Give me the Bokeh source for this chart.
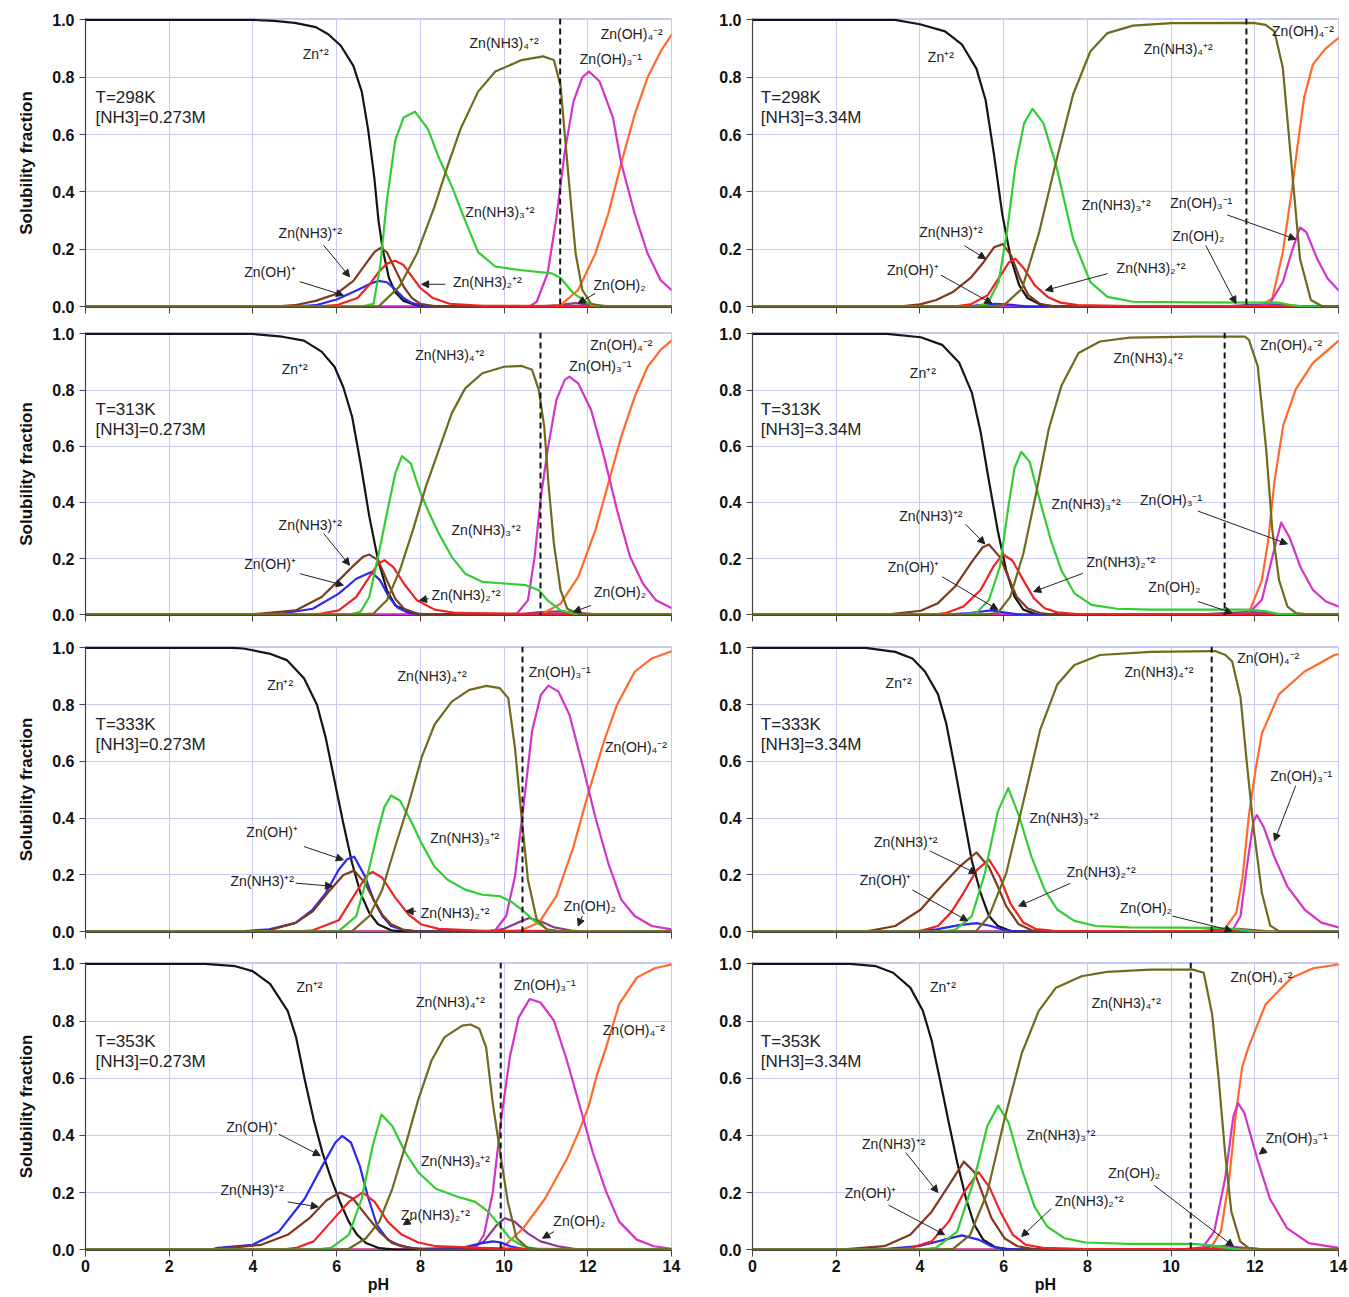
from bokeh.plotting import figure
from bokeh.layouts import column, row
from bokeh.models import (Range1d, FixedTicker, NumeralTickFormatter, Span, Label,
                          Arrow, NormalHead, ColumnDataSource)
from bokeh.embed import file_html
from bokeh.resources import INLINE

# ---------------- data: (pH, solubility fraction) ----------------
# Panel A : T=298K, [NH3]=0.273M
A_ZN = [(0,1),(4,1),(4.5,0.997),(5,0.99),(5.5,0.975),(5.8,0.95),(6.1,0.91),(6.4,0.84),(6.6,0.75),(6.75,0.62),(6.9,0.45),(7.0,0.3),(7.1,0.2),(7.25,0.1),(7.4,0.05),(7.6,0.02),(7.9,0.005),(8.3,0),(14,0)]
A_OH = [(0,0),(5,0),(5.5,0.005),(6,0.025),(6.5,0.058),(6.8,0.08),(7.0,0.09),(7.2,0.085),(7.4,0.06),(7.6,0.03),(7.8,0.012),(8.1,0.003),(8.5,0),(14,0)]
A_N1 = [(0,0),(4.5,0),(5,0.005),(5.5,0.02),(6,0.045),(6.4,0.09),(6.7,0.15),(6.9,0.19),(7.05,0.205),(7.2,0.19),(7.4,0.13),(7.6,0.07),(7.8,0.03),(8.0,0.01),(8.4,0),(14,0)]
A_N2 = [(0,0),(5.5,0),(6,0.005),(6.5,0.03),(6.8,0.08),(7.0,0.12),(7.2,0.15),(7.4,0.16),(7.6,0.145),(7.8,0.105),(8.0,0.065),(8.3,0.03),(8.7,0.01),(9.5,0.003),(12,0.002),(14,0)]
A_N3 = [(0,0),(6.6,0),(6.88,0.01),(7.04,0.14),(7.2,0.37),(7.4,0.58),(7.6,0.66),(7.87,0.68),(8.18,0.62),(8.44,0.52),(8.75,0.42),(9.07,0.3),(9.38,0.19),(9.79,0.14),(10.42,0.127),(11.14,0.116),(11.35,0.1),(11.66,0.046),(12.08,0.006),(12.4,0),(14,0)]
A_N4 = [(0,0),(7.0,0),(7.5,0.07),(7.92,0.185),(8.34,0.35),(8.65,0.49),(8.96,0.62),(9.38,0.75),(9.79,0.82),(10.42,0.86),(10.93,0.873),(11.19,0.86),(11.35,0.77),(11.45,0.6),(11.56,0.42),(11.71,0.185),(11.87,0.058),(12.08,0.01),(12.4,0),(14,0)]
A_OH2 = [(0,0),(10.8,0),(11.3,0.005),(11.7,0.012),(12.1,0.006),(12.6,0),(14,0)]
A_OH3 = [(0,0),(10.6,0),(10.78,0.017),(11.04,0.116),(11.25,0.31),(11.45,0.54),(11.66,0.717),(11.87,0.8),(12.03,0.82),(12.28,0.786),(12.6,0.66),(12.8,0.5),(13.12,0.324),(13.43,0.185),(13.74,0.092),(14,0.058)]
A_OH4 = [(0,0),(11.0,0),(11.35,0.005),(11.77,0.058),(12.18,0.185),(12.49,0.324),(12.8,0.5),(13.12,0.67),(13.43,0.8),(13.74,0.89),(14,0.948)]

# Panel B : T=298K, [NH3]=3.34M
B_ZN = [(0,1),(3.4,1),(4.0,0.985),(4.6,0.96),(5.0,0.915),(5.35,0.83),(5.57,0.72),(5.77,0.53),(5.97,0.32),(6.17,0.17),(6.37,0.075),(6.57,0.03),(6.9,0.006),(7.3,0),(14,0)]
B_OH = [(0,0),(4.8,0),(5.3,0.004),(5.8,0.01),(6.2,0.006),(6.6,0),(14,0)]
B_N1 = [(0,0),(3.5,0),(4.0,0.008),(4.39,0.023),(4.8,0.052),(5.21,0.1),(5.52,0.155),(5.77,0.207),(5.98,0.218),(6.18,0.178),(6.39,0.098),(6.59,0.04),(6.85,0.011),(7.2,0),(14,0)]
B_N2 = [(0,0),(4.8,0),(5.21,0.008),(5.62,0.04),(5.93,0.11),(6.13,0.155),(6.28,0.167),(6.49,0.132),(6.74,0.075),(7.05,0.034),(7.36,0.014),(7.77,0.005),(9,0.002),(13,0.002),(14,0)]
B_N3 = [(0,0),(5.3,0),(5.62,0.011),(5.88,0.086),(6.08,0.26),(6.28,0.49),(6.49,0.64),(6.69,0.69),(6.95,0.64),(7.26,0.49),(7.66,0.236),(8.07,0.086),(8.48,0.034),(9.09,0.017),(10.5,0.015),(12.57,0.014),(12.88,0.005),(13.2,0),(14,0)]
B_N4 = [(0,0),(5.7,0),(6.03,0.008),(6.44,0.063),(6.85,0.26),(7.26,0.51),(7.66,0.74),(8.07,0.89),(8.48,0.954),(9.09,0.98),(10.01,0.989),(11.96,0.99),(12.26,0.983),(12.47,0.96),(12.67,0.833),(12.88,0.49),(13.08,0.167),(13.34,0.023),(13.59,0.003),(14,0)]
B_OH2 = [(0,0),(11.2,0),(11.8,0.005),(12.4,0.008),(12.9,0.003),(13.3,0),(14,0)]
B_OH3 = [(0,0),(12.0,0),(12.36,0.011),(12.67,0.086),(12.88,0.19),(13.08,0.276),(13.23,0.26),(13.49,0.167),(13.74,0.098),(14,0.057)]
B_OH4 = [(0,0),(12.1,0),(12.42,0.029),(12.67,0.19),(12.88,0.4),(13.03,0.57),(13.18,0.73),(13.39,0.845),(13.69,0.9),(14,0.937)]

# Panel C : T=313K, [NH3]=0.273M
C_ZN = [(0,1),(3.98,1),(4.7,0.99),(5.22,0.976),(5.64,0.937),(5.95,0.883),(6.16,0.81),(6.37,0.705),(6.57,0.54),(6.78,0.35),(6.99,0.194),(7.2,0.087),(7.4,0.033),(7.72,0.01),(8.03,0),(14,0)]
C_OH = [(0,0),(4.3,0),(4.7,0.004),(5.43,0.021),(6.05,0.075),(6.47,0.128),(6.83,0.152),(7.04,0.122),(7.25,0.063),(7.46,0.025),(7.72,0.006),(8.1,0),(14,0)]
C_N1 = [(0,0),(3.8,0),(4.18,0.004),(5.02,0.015),(5.64,0.063),(6.05,0.122),(6.37,0.17),(6.63,0.206),(6.78,0.214),(6.99,0.194),(7.2,0.122),(7.4,0.057),(7.61,0.021),(7.92,0.004),(8.3,0),(14,0)]
C_N2 = [(0,0),(5.3,0),(5.64,0.004),(6.05,0.015),(6.47,0.063),(6.78,0.134),(6.99,0.182),(7.14,0.194),(7.35,0.17),(7.61,0.11),(7.92,0.051),(8.34,0.018),(8.86,0.006),(10.4,0.003),(12.5,0.002),(14,0)]
C_N3 = [(0,0),(6.3,0),(6.57,0.01),(6.78,0.063),(6.99,0.206),(7.2,0.36),(7.4,0.503),(7.56,0.565),(7.77,0.539),(7.98,0.444),(8.18,0.372),(8.44,0.289),(8.75,0.206),(9.07,0.146),(9.48,0.117),(10.1,0.11),(10.52,0.105),(10.83,0.087),(11.04,0.051),(11.35,0.015),(11.66,0.004),(12,0),(14,0)]
C_N4 = [(0,0),(6.5,0),(6.88,0.004),(7.2,0.051),(7.51,0.158),(7.82,0.3),(8.13,0.455),(8.44,0.586),(8.75,0.717),(9.07,0.806),(9.48,0.86),(10.0,0.883),(10.42,0.886),(10.67,0.872),(10.83,0.8),(10.96,0.67),(11.06,0.467),(11.19,0.253),(11.35,0.087),(11.51,0.021),(11.77,0.004),(12.1,0),(14,0)]
C_OH2 = [(0,0),(10.3,0),(10.8,0.008),(11.3,0.012),(11.8,0.006),(12.3,0),(14,0)]
C_OH3 = [(0,0),(10.0,0),(10.31,0.004),(10.57,0.051),(10.73,0.206),(10.88,0.42),(11.04,0.586),(11.25,0.765),(11.45,0.836),(11.56,0.848),(11.77,0.824),(12.08,0.729),(12.39,0.562),(12.7,0.372),(13.01,0.206),(13.32,0.11),(13.63,0.051),(14,0.024)]
C_OH4 = [(0,0),(10.6,0),(10.93,0.004),(11.35,0.039),(11.77,0.134),(12.18,0.3),(12.49,0.467),(12.8,0.634),(13.12,0.776),(13.43,0.883),(13.74,0.943),(14,0.976)]

# Panel D : T=313K, [NH3]=3.34M
D_ZN = [(0,1),(3.21,1),(4.02,0.988),(4.53,0.961),(4.94,0.897),(5.24,0.791),(5.45,0.651),(5.65,0.475),(5.86,0.299),(6.06,0.158),(6.26,0.064),(6.47,0.018),(6.77,0.002),(7.1,0),(14,0)]
D_OH = [(0,0),(4.6,0),(5.2,0.006),(5.7,0.015),(6.0,0.008),(6.4,0),(14,0)]
D_N1 = [(0,0),(3.2,0),(4.02,0.014),(4.43,0.041),(4.84,0.1),(5.24,0.188),(5.5,0.24),(5.65,0.25),(5.91,0.205),(6.11,0.135),(6.31,0.064),(6.57,0.023),(6.87,0.006),(7.2,0),(14,0)]
D_N2 = [(0,0),(4.3,0),(4.63,0.006),(5.04,0.029),(5.45,0.088),(5.75,0.17),(5.98,0.215),(6.21,0.193),(6.47,0.123),(6.72,0.059),(6.98,0.023),(7.28,0.008),(7.69,0.003),(13,0.002),(14,0)]
D_N3 = [(0,0),(5.0,0),(5.35,0.006),(5.65,0.053),(5.91,0.17),(6.11,0.381),(6.26,0.522),(6.42,0.58),(6.62,0.545),(6.87,0.404),(7.13,0.264),(7.38,0.158),(7.69,0.076),(8.1,0.035),(8.71,0.021),(9.52,0.018),(11.86,0.018),(12.27,0.012),(12.58,0.002),(13,0),(14,0)]
D_N4 = [(0,0),(5.5,0),(5.86,0.006),(6.16,0.064),(6.47,0.217),(6.77,0.428),(7.08,0.662),(7.38,0.815),(7.79,0.932),(8.3,0.973),(9.01,0.987),(10.54,0.99),(11.76,0.99),(11.86,0.979),(12.07,0.885),(12.27,0.592),(12.42,0.299),(12.58,0.123),(12.78,0.029),(12.98,0.006),(13.3,0),(14,0)]
D_OH2 = [(0,0),(10.6,0),(11.3,0.006),(11.9,0.01),(12.4,0.004),(12.8,0),(14,0)]
D_OH3 = [(0,0),(11.5,0),(11.86,0.006),(12.17,0.053),(12.42,0.205),(12.63,0.328),(12.83,0.275),(13.09,0.17),(13.39,0.088),(13.7,0.047),(14,0.029)]
D_OH4 = [(0,0),(11.5,0),(11.86,0.006),(12.17,0.123),(12.32,0.264),(12.47,0.475),(12.68,0.674),(12.98,0.803),(13.39,0.897),(14,0.975)]

# Panel E : T=333K, [NH3]=0.273M
E_ZN = [(0,1),(3.5,1),(3.77,0.998),(4.39,0.98),(4.81,0.957),(5.22,0.893),(5.53,0.8),(5.74,0.683),(5.95,0.532),(6.16,0.381),(6.37,0.241),(6.57,0.136),(6.78,0.066),(6.99,0.026),(7.3,0.005),(7.6,0),(14,0)]
E_OH = [(0,0),(3.6,0),(4.39,0.008),(5.02,0.031),(5.43,0.078),(5.74,0.136),(6.05,0.218),(6.25,0.255),(6.42,0.264),(6.68,0.194),(6.88,0.113),(7.09,0.055),(7.3,0.02),(7.61,0.005),(8.0,0),(14,0)]
E_N1 = [(0,0),(3.6,0),(4.39,0.005),(5.02,0.031),(5.43,0.072),(5.85,0.148),(6.16,0.2),(6.42,0.215),(6.68,0.171),(6.88,0.113),(7.09,0.06),(7.3,0.026),(7.61,0.006),(8.0,0),(14,0)]
E_N2 = [(0,0),(5.0,0),(5.43,0.005),(6.05,0.04),(6.47,0.14),(6.73,0.2),(6.86,0.21),(7.09,0.19),(7.4,0.12),(7.72,0.06),(8.03,0.025),(8.44,0.01),(9.5,0.003),(12,0.002),(14,0)]
E_N3 = [(0,0),(5.7,0),(6.05,0.002),(6.47,0.055),(6.73,0.194),(6.99,0.357),(7.14,0.439),(7.3,0.48),(7.51,0.462),(7.77,0.392),(8.03,0.311),(8.34,0.229),(8.65,0.183),(9.07,0.148),(9.48,0.13),(9.9,0.125),(10.16,0.107),(10.42,0.078),(10.73,0.037),(11.04,0.008),(11.4,0),(14,0)]
E_N4 = [(0,0),(6.0,0),(6.37,0.002),(6.78,0.055),(7.09,0.148),(7.4,0.3),(7.72,0.45),(8.03,0.614),(8.34,0.73),(8.75,0.811),(9.17,0.852),(9.58,0.866),(9.9,0.858),(10.1,0.823),(10.26,0.648),(10.41,0.416),(10.57,0.183),(10.78,0.043),(11.04,0.005),(11.4,0),(14,0)]
E_OH2 = [(0,0),(9.6,0),(10.0,0.01),(10.3,0.03),(10.6,0.048),(10.9,0.035),(11.2,0.015),(11.6,0.004),(12.0,0),(14,0)]
E_OH3 = [(0,0),(9.5,0),(9.79,0.005),(10.05,0.055),(10.26,0.194),(10.47,0.45),(10.67,0.707),(10.88,0.835),(11.06,0.867),(11.3,0.846),(11.56,0.765),(11.87,0.59),(12.18,0.404),(12.49,0.241),(12.8,0.113),(13.12,0.055),(13.53,0.02),(14,0.008)]
E_OH4 = [(0,0),(10.1,0),(10.41,0.005),(10.83,0.031),(11.25,0.125),(11.66,0.3),(12.03,0.497),(12.39,0.672),(12.7,0.8),(13.12,0.916),(13.53,0.963),(14,0.988)]

# Panel F : T=333K, [NH3]=3.34M
F_ZN = [(0,1),(2.7,1),(3.41,0.986),(3.82,0.963),(4.12,0.917),(4.43,0.837),(4.63,0.733),(4.84,0.572),(5.04,0.41),(5.24,0.25),(5.45,0.136),(5.65,0.055),(5.86,0.02),(6.16,0.003),(6.5,0),(14,0)]
F_OH = [(0,0),(3.8,0),(4.4,0.008),(4.9,0.022),(5.35,0.03),(5.7,0.02),(6.0,0.006),(6.3,0),(14,0)]
F_N1 = [(0,0),(2.7,0),(3.41,0.02),(4.02,0.078),(4.43,0.147),(4.94,0.228),(5.35,0.279),(5.65,0.228),(5.86,0.159),(6.06,0.09),(6.36,0.026),(6.67,0.005),(7.0,0),(14,0)]
F_N2 = [(0,0),(3.7,0),(4.02,0.003),(4.43,0.02),(4.74,0.067),(5.04,0.136),(5.35,0.216),(5.65,0.254),(5.91,0.193),(6.16,0.1),(6.47,0.032),(6.77,0.009),(7.2,0.003),(13,0.002),(14,0)]
F_N3 = [(0,0),(4.5,0),(4.84,0.006),(5.24,0.055),(5.55,0.205),(5.86,0.423),(6.11,0.506),(6.36,0.411),(6.67,0.262),(6.98,0.147),(7.28,0.078),(7.69,0.038),(8.2,0.02),(9.01,0.015),(11.05,0.013),(11.56,0.009),(11.97,0),(14,0)]
F_N4 = [(0,0),(5.0,0),(5.35,0.003),(5.65,0.055),(6.06,0.205),(6.47,0.457),(6.87,0.71),(7.28,0.871),(7.69,0.94),(8.3,0.975),(9.52,0.986),(11.05,0.989),(11.3,0.975),(11.46,0.952),(11.66,0.825),(11.81,0.595),(11.97,0.366),(12.17,0.136),(12.37,0.021),(12.6,0),(14,0)]
F_OH2 = [(0,0),(10.5,0),(11.1,0.006),(11.6,0.01),(12.1,0.004),(12.5,0),(14,0)]
F_OH3 = [(0,0),(11.2,0),(11.46,0.003),(11.66,0.055),(11.81,0.228),(11.97,0.389),(12.05,0.411),(12.22,0.366),(12.47,0.262),(12.78,0.159),(13.19,0.078),(13.59,0.032),(14,0.015)]
F_OH4 = [(0,0),(11.0,0),(11.25,0.003),(11.56,0.067),(11.71,0.193),(11.86,0.411),(12.02,0.572),(12.17,0.699),(12.58,0.837),(13.19,0.917),(13.9,0.975),(14,0.978)]

# Panel G : T=353K, [NH3]=0.273M
G_ZN = [(0,1),(2.85,1),(3.58,0.992),(3.99,0.975),(4.41,0.93),(4.83,0.836),(5.03,0.744),(5.24,0.594),(5.45,0.456),(5.66,0.34),(5.87,0.248),(6.08,0.167),(6.29,0.098),(6.49,0.052),(6.7,0.023),(7.02,0.005),(7.4,0),(14,0)]
G_OH = [(0,0),(3.0,0),(3.16,0.006),(3.99,0.017),(4.62,0.063),(5.24,0.179),(5.66,0.294),(5.97,0.375),(6.13,0.398),(6.34,0.375),(6.55,0.294),(6.76,0.179),(6.96,0.087),(7.22,0.035),(7.54,0.012),(7.95,0.003),(9.0,0.006),(9.41,0.021),(9.73,0.029),(9.93,0.025),(10.14,0.012),(10.46,0.002),(10.8,0),(14,0)]
G_N1 = [(0,0),(3.0,0),(3.16,0.003),(4.2,0.017),(4.83,0.052),(5.35,0.11),(5.76,0.173),(6.08,0.2),(6.39,0.179),(6.7,0.121),(7.02,0.063),(7.33,0.023),(7.75,0.006),(8.2,0),(14,0)]
G_N2 = [(0,0),(4.7,0),(5.03,0.006),(5.45,0.029),(5.87,0.098),(6.29,0.167),(6.62,0.2),(6.91,0.167),(7.22,0.098),(7.54,0.054),(7.95,0.025),(8.37,0.012),(9.41,0.006),(10.46,0.003),(12,0.002),(14,0)]
G_N3 = [(0,0),(5.5,0),(5.87,0.006),(6.29,0.052),(6.6,0.179),(6.86,0.363),(7.07,0.473),(7.33,0.433),(7.64,0.34),(7.95,0.271),(8.37,0.213),(8.89,0.185),(9.31,0.167),(9.62,0.133),(9.88,0.087),(10.14,0.04),(10.46,0.012),(10.77,0.002),(11.1,0),(14,0)]
G_N4 = [(0,0),(6.0,0),(6.29,0.003),(6.7,0.04),(7.02,0.098),(7.33,0.213),(7.64,0.363),(7.95,0.525),(8.27,0.663),(8.58,0.744),(9.0,0.784),(9.2,0.788),(9.41,0.773),(9.57,0.709),(9.73,0.513),(9.93,0.317),(10.09,0.167),(10.3,0.04),(10.56,0.006),(10.9,0),(14,0)]
G_OH2 = [(0,0),(8.9,0),(9.2,0.003),(9.52,0.029),(9.83,0.087),(10.02,0.11),(10.25,0.098),(10.56,0.058),(10.87,0.029),(11.29,0.012),(11.7,0.002),(12.0,0),(14,0)]
G_OH3 = [(0,0),(9.0,0),(9.31,0.003),(9.52,0.052),(9.73,0.2),(9.93,0.456),(10.14,0.675),(10.35,0.813),(10.61,0.877),(10.87,0.865),(11.19,0.802),(11.5,0.663),(11.81,0.502),(12.12,0.34),(12.44,0.202),(12.75,0.098),(13.17,0.035),(13.58,0.012),(14,0.003)]
G_OH4 = [(0,0),(9.6,0),(9.93,0.003),(10.46,0.075),(10.98,0.179),(11.5,0.317),(11.81,0.421),(12.02,0.502),(12.23,0.617),(12.44,0.709),(12.75,0.859),(13.17,0.952),(13.6,0.985),(14,0.998)]

# Panel H : T=353K, [NH3]=3.34M
H_ZN = [(0,1),(2.33,1),(2.95,0.992),(3.36,0.969),(3.77,0.917),(4.07,0.836),(4.28,0.732),(4.48,0.594),(4.69,0.444),(4.89,0.306),(5.1,0.179),(5.3,0.087),(5.51,0.035),(5.81,0.008),(6.2,0),(14,0)]
H_OH = [(0,0),(2.8,0),(3.15,0.002),(3.97,0.012),(4.59,0.035),(5.0,0.05),(5.4,0.035),(5.71,0.012),(6.02,0.002),(6.4,0),(14,0)]
H_N1 = [(0,0),(2.0,0),(2.33,0.003),(3.15,0.012),(3.77,0.052),(4.28,0.133),(4.69,0.225),(5.05,0.308),(5.3,0.271),(5.51,0.19),(5.71,0.11),(6.02,0.04),(6.33,0.012),(6.73,0.002),(7.1,0),(14,0)]
H_N2 = [(0,0),(3.4,0),(3.77,0.006),(4.28,0.029),(4.69,0.098),(5.05,0.2),(5.4,0.271),(5.66,0.219),(5.92,0.133),(6.22,0.052),(6.53,0.017),(6.94,0.006),(8,0.002),(13,0.002),(14,0)]
H_N3 = [(0,0),(4.0,0),(4.38,0.006),(4.89,0.063),(5.3,0.248),(5.61,0.433),(5.87,0.504),(6.12,0.444),(6.43,0.283),(6.74,0.15),(7.04,0.081),(7.45,0.04),(7.96,0.025),(8.99,0.02),(10.52,0.02),(10.93,0.015),(11.34,0.006),(11.65,0),(14,0)]
H_N4 = [(0,0),(4.4,0),(4.79,0.003),(5.2,0.052),(5.61,0.2),(6.02,0.456),(6.43,0.686),(6.84,0.836),(7.25,0.917),(7.86,0.957),(8.47,0.972),(9.5,0.98),(10.52,0.98),(10.78,0.969),(10.98,0.825),(11.14,0.594),(11.29,0.34),(11.44,0.133),(11.65,0.029),(11.85,0.006),(12.2,0),(14,0)]
H_OH2 = [(0,0),(10.2,0),(10.8,0.008),(11.3,0.012),(11.8,0.005),(12.3,0),(14,0)]
H_OH3 = [(0,0),(10.4,0),(10.73,0.003),(11.03,0.063),(11.29,0.248),(11.49,0.467),(11.6,0.513),(11.75,0.479),(12.06,0.317),(12.36,0.179),(12.77,0.075),(13.29,0.023),(14,0.006)]
H_OH4 = [(0,0),(10.6,0),(10.93,0.003),(11.19,0.063),(11.39,0.248),(11.55,0.479),(11.7,0.64),(11.85,0.709),(12.26,0.859),(12.88,0.952),(13.4,0.985),(14,0.998)]

# vertical dashed marker (pH) and panel captions
DASH_PH = [11.34, 11.8, 10.87, 11.28, 10.44, 10.97, 9.92, 10.47]
TEMPS = ["T=298K", "T=298K", "T=313K", "T=313K", "T=333K", "T=333K", "T=353K", "T=353K"]
NH3 = ["[NH3]=0.273M", "[NH3]=3.34M"] * 4

SPECIES_TEXT = {
    "ZN": "Zn\u207a\u00b2",
    "OH": "Zn(OH)\u207a",
    "N1": "Zn(NH3)\u207a\u00b2",
    "N2": "Zn(NH3)\u2082\u207a\u00b2",
    "N3": "Zn(NH3)\u2083\u207a\u00b2",
    "N4": "Zn(NH3)\u2084\u207a\u00b2",
    "OH2": "Zn(OH)\u2082",
    "OH3": "Zn(OH)\u2083\u207b\u00b9",
    "OH4": "Zn(OH)\u2084\u207b\u00b2",
}

# ---------------- styling ----------------
COLORS = {"ZN": "#151515", "OH": "#2b2bef", "N1": "#7d3a1e", "N2": "#f02222",
          "N3": "#33cc33", "N4": "#6f6a1d", "OH2": "#8e3a8e", "OH3": "#d233c8",
          "OH4": "#ff6a2a"}
DRAW_ORDER = ["OH2", "OH4", "OH3", "ZN", "OH", "N1", "N2", "N3", "N4"]

CURVES = [
    dict(ZN=A_ZN, OH=A_OH, N1=A_N1, N2=A_N2, N3=A_N3, N4=A_N4, OH2=A_OH2, OH3=A_OH3, OH4=A_OH4),
    dict(ZN=B_ZN, OH=B_OH, N1=B_N1, N2=B_N2, N3=B_N3, N4=B_N4, OH2=B_OH2, OH3=B_OH3, OH4=B_OH4),
    dict(ZN=C_ZN, OH=C_OH, N1=C_N1, N2=C_N2, N3=C_N3, N4=C_N4, OH2=C_OH2, OH3=C_OH3, OH4=C_OH4),
    dict(ZN=D_ZN, OH=D_OH, N1=D_N1, N2=D_N2, N3=D_N3, N4=D_N4, OH2=D_OH2, OH3=D_OH3, OH4=D_OH4),
    dict(ZN=E_ZN, OH=E_OH, N1=E_N1, N2=E_N2, N3=E_N3, N4=E_N4, OH2=E_OH2, OH3=E_OH3, OH4=E_OH4),
    dict(ZN=F_ZN, OH=F_OH, N1=F_N1, N2=F_N2, N3=F_N3, N4=F_N4, OH2=F_OH2, OH3=F_OH3, OH4=F_OH4),
    dict(ZN=G_ZN, OH=G_OH, N1=G_N1, N2=G_N2, N3=G_N3, N4=G_N4, OH2=G_OH2, OH3=G_OH3, OH4=G_OH4),
    dict(ZN=H_ZN, OH=H_OH, N1=H_N1, N2=H_N2, N3=H_N3, N4=H_N4, OH2=H_OH2, OH3=H_OH3, OH4=H_OH4),
]

# species label placement (species, pH, fraction) and arrows (x0, y0, x1, y1)
LABELS = [
    [("ZN",5.5,0.88),("N4",10.0,0.92),("OH4",13.05,0.95),("OH3",12.55,0.865),("N3",9.9,0.33),
     ("N1",5.37,0.256),("OH",4.41,0.12),("N2",9.6,0.086),("OH2",12.76,0.076)],
    [("ZN",4.5,0.87),("N4",10.17,0.9),("OH4",13.15,0.96),("N3",8.69,0.353),("OH3",10.72,0.36),
     ("OH2",10.65,0.245),("N1",4.74,0.26),("OH",3.83,0.128),("N2",9.52,0.135)],
    [("ZN",5.0,0.875),("N4",8.7,0.925),("OH4",12.8,0.96),("OH3",12.3,0.886),("N3",9.57,0.3),
     ("N1",5.37,0.32),("OH",4.41,0.18),("N2",9.09,0.07),("OH2",12.77,0.08)],
    [("ZN",4.07,0.86),("N4",9.45,0.915),("OH4",12.87,0.96),("N3",7.97,0.393),("OH3",10.0,0.407),
     ("OH2",10.08,0.098),("N1",4.26,0.35),("OH",3.85,0.17),("N2",8.8,0.186)],
    [("ZN",4.65,0.87),("N4",8.28,0.9),("OH3",11.33,0.916),("OH4",13.15,0.65),("N3",9.06,0.33),
     ("OH",4.46,0.35),("N1",4.22,0.18),("N2",8.83,0.067),("OH2",12.05,0.09)],
    [("ZN",3.49,0.875),("N4",9.71,0.915),("OH4",12.32,0.965),("OH3",13.11,0.55),("N3",7.44,0.4),
     ("N1",3.66,0.315),("OH",3.18,0.183),("N2",8.33,0.21),("OH2",9.4,0.083)],
    [("ZN",5.35,0.92),("N4",8.72,0.868),("OH3",10.97,0.927),("OH4",13.1,0.77),("N3",8.84,0.31),
     ("OH",3.98,0.43),("N1",3.98,0.21),("N2",8.36,0.12),("OH2",11.8,0.1)],
    [("ZN",4.55,0.92),("N4",8.93,0.865),("OH4",12.16,0.955),("OH3",13.0,0.39),("N3",7.37,0.4),
     ("N1",3.37,0.37),("OH",2.82,0.2),("N2",8.04,0.17),("OH2",9.12,0.27)],
]
ARROWS = [
    [(5.69,0.214,6.31,0.104),(5.12,0.087,6.16,0.04),(8.6,0.078,8.03,0.078),(12.18,0.046,11.77,0.012)],
    [(11.34,0.32,12.98,0.235),(10.83,0.213,11.55,0.011),(5.06,0.213,5.57,0.167),(4.5,0.11,5.72,0.011),(8.48,0.115,7.0,0.057)],
    [(5.69,0.289,6.31,0.176),(5.12,0.146,6.16,0.105),(8.2,0.057,7.98,0.051),(12.08,0.033,11.66,0.01)],
    [(10.64,0.369,12.78,0.252),(10.64,0.047,11.46,0.006),(5.09,0.322,5.55,0.252),(4.53,0.135,5.86,0.018),(7.89,0.147,6.72,0.082)],
    [(5.22,0.3,6.16,0.253),(5.02,0.171,5.9,0.16),(7.9,0.072,7.66,0.072),(11.87,0.055,11.77,0.02)],
    [(12.98,0.515,12.47,0.32),(4.23,0.285,5.35,0.205),(3.82,0.147,5.14,0.038),(7.59,0.17,6.36,0.09),(10.03,0.055,11.46,0.003)],
    [(4.62,0.404,5.61,0.329),(4.83,0.167,5.56,0.15),(7.9,0.115,7.59,0.087),(11.19,0.063,10.92,0.04)],
    [(12.26,0.352,12.11,0.334),(3.66,0.34,4.43,0.2),(3.25,0.156,4.59,0.052),(7.14,0.144,6.43,0.046),(9.6,0.225,11.49,0.012)],
]

FONT = "Liberation Sans"
GRID = "#c9c9f2"
ROWS = [(321, 18, 14), (308, 11, 14), (317, 17, 14), (351, 16, 47)]  # height, top, bottom


def make_panel(i):
    r, c = divmod(i, 2)
    h, top, bottom = ROWS[r]
    left = c == 0
    w = 681 if left else 668
    p = figure(width=w, height=h, output_backend="svg", toolbar_location=None,
               x_range=Range1d(0, 14), y_range=Range1d(-0.003, 1.005),
               min_border_left=85 if left else 71, min_border_right=10 if left else 11,
               min_border_top=top, min_border_bottom=bottom)
    p.background_fill_color = "white"
    p.border_fill_color = "white"
    p.outline_line_color = GRID
    xt = FixedTicker(ticks=list(range(0, 15, 2)))
    yt = FixedTicker(ticks=[0, 0.2, 0.4, 0.6, 0.8, 1.0])
    p.xaxis.ticker = xt
    p.yaxis.ticker = yt
    p.xgrid.ticker = xt
    p.ygrid.ticker = yt
    p.xgrid.grid_line_color = GRID
    p.ygrid.grid_line_color = GRID
    p.yaxis.formatter = NumeralTickFormatter(format="0.0")
    for ax in (p.xaxis[0], p.yaxis[0]):
        ax.axis_line_color = "#444444"
        ax.axis_line_width = 1.2
        ax.major_tick_line_color = "#444444"
        ax.major_tick_out = 6
        ax.major_tick_in = 0
        ax.minor_tick_line_color = None
        ax.major_label_text_font = FONT
        ax.major_label_text_font_style = "bold"
        ax.major_label_text_font_size = "16px"
        ax.major_label_text_color = "#111111"
        ax.axis_label_text_font = FONT
        ax.axis_label_text_font_style = "bold"
        ax.axis_label_text_color = "#111111"
    if left:
        p.yaxis.axis_label = "Solubility fraction"
        p.yaxis.axis_label_text_font_size = "17px"
        p.yaxis.axis_label_standoff = 13
    if r == 3:
        p.xaxis.axis_label = "pH"
        p.xaxis.axis_label_text_font_size = "16px"
        p.xaxis.axis_label_standoff = 1
        p.xaxis.major_label_standoff = 3
    else:
        # tick marks only: the reference shows no tick numbers on the upper rows
        p.xaxis.major_label_text_font_size = "1px"
        p.xaxis.major_label_text_color = None
        p.xaxis.major_label_standoff = 0

    curves = CURVES[i]
    for key in DRAW_ORDER:
        pts = curves[key]
        src = ColumnDataSource(dict(x=[q[0] for q in pts], y=[q[1] for q in pts]))
        p.line("x", "y", source=src, line_color=COLORS[key], line_width=2.2,
               line_join="round", line_cap="round")

    p.add_layout(Span(location=DASH_PH[i], dimension="height", line_color="#111111",
                      line_width=2, line_dash="6 4"))

    tx = 0.24 if left else 0.2
    p.add_layout(Label(x=tx, y=0.73, text=TEMPS[i], text_font=FONT, text_font_size="17px",
                       text_color="#222222", text_baseline="middle"))
    p.add_layout(Label(x=tx, y=0.66, text=NH3[i], text_font=FONT, text_font_size="17px",
                       text_color="#222222", text_baseline="middle"))

    for key, lx, ly in LABELS[i]:
        p.add_layout(Label(x=lx, y=ly, text=SPECIES_TEXT[key], text_font=FONT,
                           text_font_size="14px", text_color="#222222",
                           text_align="center", text_baseline="middle"))
    for x0, y0, x1, y1 in ARROWS[i]:
        p.add_layout(Arrow(x_start=x0, y_start=y0, x_end=x1, y_end=y1,
                           line_color="#222222", line_width=1,
                           end=NormalHead(size=7, fill_color="#222222",
                                          line_color="#222222", line_width=1)))
    return p


panels = [make_panel(i) for i in range(8)]
layout = column(*[row(panels[2 * k], panels[2 * k + 1]) for k in range(4)])

open("out.html", "w").write(file_html(layout, INLINE, title="Zn speciation"))
